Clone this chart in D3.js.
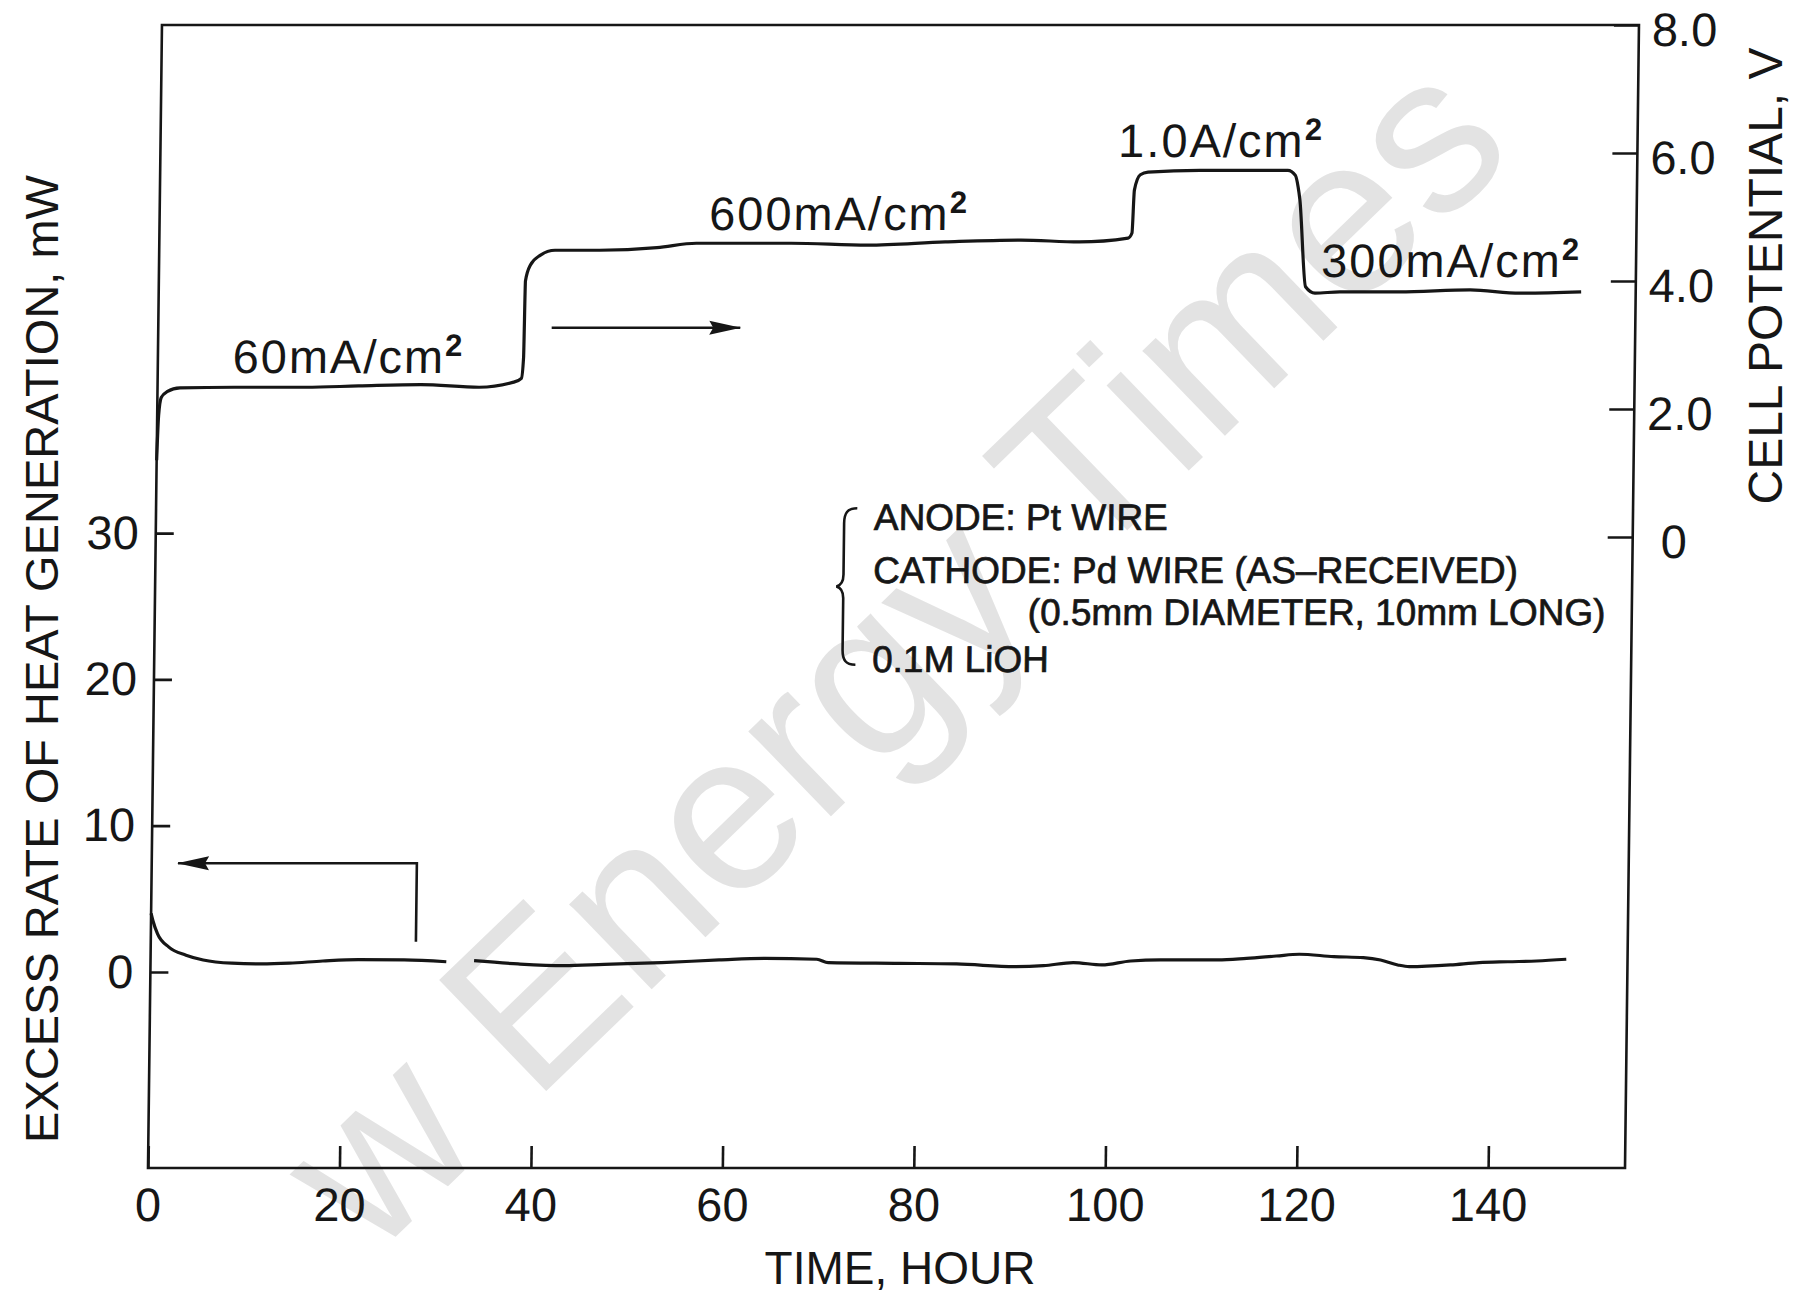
<!DOCTYPE html>
<html>
<head>
<meta charset="utf-8">
<script src="https://cdn.jsdelivr.net/npm/d3@7"></script>
<style>
  body { margin: 0; background: #fff; }
  svg text { font-family: "Liberation Sans", Arial, Helvetica, sans-serif; fill: #161616; }
</style>
</head>
<body>
<svg id="chart" width="1804" height="1299"></svg>
<script>
// tick values
var timeTicks = [0, 20, 40, 60, 80, 100, 120, 140]
var heatTicks = [0, 10, 20, 30]
var voltTicks = [0, 2, 4, 6, 8]

// cell potential, V (upper trace)
var voltTime  = [0, 0.15, 0.4, 1.0, 2.35, 8, 15.5, 21, 27.5, 33.6, 37.2, 38.0, 38.2, 38.3, 38.8, 39.8, 41.35, 46, 52, 56.1, 66, 74, 82.1, 90, 96.1, 101.2, 101.6, 101.8, 102.4, 103.2, 108.6, 117.8, 118.6, 118.9, 119.1, 119.8, 120.8, 123.4, 129.6, 137, 142.2, 148.6]
var voltValue = [1.2, 1.9, 2.18, 2.27, 2.33, 2.34, 2.34, 2.36, 2.38, 2.34, 2.42, 2.48, 2.8, 4.0, 4.25, 4.4, 4.48, 4.48, 4.52, 4.59, 4.59, 4.56, 4.61, 4.64, 4.61, 4.67, 4.75, 5.42, 5.66, 5.70, 5.73, 5.73, 5.65, 5.47, 5.27, 3.91, 3.81, 3.83, 3.83, 3.86, 3.81, 3.83]

// excess rate of heat generation, mW (lower trace); null = break in the trace
var heatTime  = [0, 0.2, 0.7, 1.9, 3.7, 5.5, 8.5, 11.5, 14.5, 18, 21.7, 26.5, 30.9, 32.4, 33.8, 38.4, 43.2, 47.4, 53.4, 59.4, 64.2, 69.6, 70.8, 78.2, 84.2, 90.3, 93.3, 96.4, 99.4, 102.4, 105.5, 111.5, 114.5, 117.6, 120, 123.6, 126.7, 128.5, 130.3, 131.5, 135.8, 138.8, 141.8, 144.8, 147.9]
var heatValue = [4.0, 3.5, 2.6, 1.7, 1.15, 0.82, 0.6, 0.55, 0.6, 0.75, 0.85, 0.82, 0.7, null, 0.77, 0.55, 0.43, 0.52, 0.64, 0.82, 0.93, 0.87, 0.64, 0.59, 0.55, 0.36, 0.43, 0.64, 0.48, 0.75, 0.82, 0.82, 0.93, 1.09, 1.21, 1.05, 0.98, 0.82, 0.48, 0.36, 0.48, 0.64, 0.7, 0.75, 0.87]

// current density labels and where they sit (hour, V)
var currentText = ["60mA/cm", "600mA/cm", "1.0A/cm", "300mA/cm"]
var currentAt = [[7.8, 2.56], [57.4, 4.80], [100.05, 5.94], [121.4, 4.06]]

// conditions note (hour, mW)
var noteText = ["ANODE: Pt WIRE", "CATHODE: Pd WIRE (AS\u2013RECEIVED)", "(0.5mm DIAMETER, 10mm LONG)", "0.1M LiOH"]
var noteAt = [[75, 30.2], [75, 26.6], [91.2, 23.7], [75, 20.5]]

// arrows pointing each trace to its axis
var heatArrow = [[27.7, 2.07], [27.7, 7.43], [2.75, 7.43]]   // hour, mW
var voltArrow = [[41.1, 3.27], [60.8, 3.27]]                  // hour, V

var ink = "#161616"
var svg = d3.select("#chart")

var x = d3.scaleLinear().domain([0, 154.3]).range([148, 1625])
var yHeat = d3.scaleLinear().domain([-13.4, 64.73]).range([1168, 25])
var yVolt = d3.scaleLinear().domain([-9.86, 8]).range([1168, 25])

// watermark of the scanned source (only the part that shows on the page)
svg.append("text")
	.attr("transform", "translate(945,706) rotate(-44)")
	.attr("text-anchor", "middle")
	.style("font-size", "224px")
	.style("fill", "#e3e3e3")
	.text("w Energy Times")

var defs = svg.append("defs")
defs.append("marker")
	.attr("id", "head")
	.attr("viewBox", "0 0 32 16")
	.attr("refX", 31).attr("refY", 8)
	.attr("markerWidth", 32).attr("markerHeight", 16)
	.attr("markerUnits", "userSpaceOnUse")
	.attr("orient", "auto")
	.append("path")
	.attr("d", "M0,1 L32,8 L0,15 L4,8 Z")
	.attr("fill", ink)

// the scan leans a little, so the plot is sheared about the bottom axis
var g = svg.append("g")
	.attr("transform", "translate(0,1168) skewX(-0.7) translate(0,-1168)")

g.append("rect")
	.attr("x", x.range()[0])
	.attr("y", yHeat.range()[1])
	.attr("width", x.range()[1] - x.range()[0])
	.attr("height", yHeat.range()[0] - yHeat.range()[1])
	.attr("fill", "none")
	.attr("stroke", ink)
	.attr("stroke-width", 2.6)

function styleAxis(sel) {
	sel.select(".domain").remove()
	sel.attr("color", ink).attr("font-size", 47)
	sel.selectAll("line").attr("stroke-width", 2.6)
}

g.append("g")
	.attr("transform", "translate(0," + yHeat.range()[0] + ")")
	.call(d3.axisBottom(x).tickValues(timeTicks).tickSizeInner(-22).tickSizeOuter(0).tickPadding(20))
	.call(styleAxis)

g.append("g")
	.attr("transform", "translate(" + x.range()[0] + ",0)")
	.call(d3.axisLeft(yHeat).tickValues(heatTicks).tickSizeInner(-18).tickSizeOuter(0).tickPadding(17))
	.call(styleAxis)

var rightAxis = g.append("g")
	.attr("transform", "translate(" + x.range()[1] + ",0)")
	.call(d3.axisRight(yVolt).tickValues(voltTicks).tickSizeInner(-25).tickSizeOuter(0).tickPadding(13)
		.tickFormat(function(d) { return d == 0 ? "0" : d3.format(".1f")(d) }))
	.call(styleAxis)
rightAxis.selectAll("text").attr("dy", "0.44em")
	.attr("dx", function(d) { return d == 0 ? 15 : 0 })

// traces
var voltData = voltTime.map(function(t, i) { return [t, voltValue[i]] })
var heatData = heatTime.map(function(t, i) { return [t, heatValue[i]] })

var voltLine = d3.line()
	.x(function(d) { return x(d[0]) })
	.y(function(d) { return yVolt(d[1]) })
	.curve(d3.curveMonotoneX)

var heatLine = d3.line()
	.defined(function(d) { return d[1] != null })
	.x(function(d) { return x(d[0]) })
	.y(function(d) { return yHeat(d[1]) })
	.curve(d3.curveMonotoneX)

g.append("path").datum(voltData)
	.attr("d", voltLine)
	.attr("fill", "none").attr("stroke", ink).attr("stroke-width", 3.2)
	.attr("stroke-linejoin", "round")

g.append("path").datum(heatData)
	.attr("d", heatLine)
	.attr("fill", "none").attr("stroke", ink).attr("stroke-width", 3.2)
	.attr("stroke-linejoin", "round")

// arrows
g.append("path").datum(heatArrow)
	.attr("d", d3.line().x(function(d) { return x(d[0]) }).y(function(d) { return yHeat(d[1]) }))
	.attr("fill", "none").attr("stroke", ink).attr("stroke-width", 2.6)
	.attr("marker-end", "url(#head)")

g.append("path").datum(voltArrow)
	.attr("d", d3.line().x(function(d) { return x(d[0]) }).y(function(d) { return yVolt(d[1]) }))
	.attr("fill", "none").attr("stroke", ink).attr("stroke-width", 2.6)
	.attr("marker-end", "url(#head)")

// current density labels
var lab = g.append("g").selectAll("text")
	.data(currentText)
	.join("text")
	.attr("x", function(d, i) { return x(currentAt[i][0]) })
	.attr("y", function(d, i) { return yVolt(currentAt[i][1]) })
	.style("font-size", "47px")
	.style("letter-spacing", "2px")
	.text(function(d) { return d })
lab.append("tspan")
	.attr("dy", -17)
	.style("font-size", "31px")
	.style("font-weight", "bold")
	.text("2")

// brace + conditions note
var bx = x(71.9), bTop = yHeat(31.7), bBot = yHeat(21.0), bMid = (bTop + bBot) / 2
g.append("path")
	.attr("d", "M" + (bx + 13) + "," + bTop +
		" C" + (bx + 3) + "," + bTop + " " + bx + "," + (bTop + 5) + " " + bx + "," + (bTop + 15) +
		" L" + bx + "," + (bMid - 12) +
		" C" + bx + "," + (bMid - 4) + " " + (bx - 3) + "," + (bMid - 1) + " " + (bx - 7) + "," + bMid +
		" C" + (bx - 3) + "," + (bMid + 1) + " " + bx + "," + (bMid + 4) + " " + bx + "," + (bMid + 12) +
		" L" + bx + "," + (bBot - 15) +
		" C" + bx + "," + (bBot - 5) + " " + (bx + 3) + "," + bBot + " " + (bx + 13) + "," + bBot)
	.attr("fill", "none").attr("stroke", ink).attr("stroke-width", 2.6)

g.append("g").selectAll("text")
	.data(noteText)
	.join("text")
	.attr("x", function(d, i) { return x(noteAt[i][0]) })
	.attr("y", function(d, i) { return yHeat(noteAt[i][1]) })
	.style("font-size", "37px")
	.style("stroke", ink)
	.style("stroke-width", "0.7px")
	.text(function(d) { return d })

// axis titles
svg.append("text")
	.attr("transform", "translate(58,659) rotate(-90)")
	.attr("text-anchor", "middle")
	.style("font-size", "47px")
	.text("EXCESS RATE OF HEAT GENERATION, mW")

svg.append("text")
	.attr("transform", "translate(1782,276) rotate(-90)")
	.attr("text-anchor", "middle")
	.style("font-size", "48px")
	.text("CELL POTENTIAL, V")

svg.append("text")
	.attr("x", 900)
	.attr("y", 1284)
	.attr("text-anchor", "middle")
	.style("font-size", "46px")
	.text("TIME, HOUR")
</script>
</body>
</html>
